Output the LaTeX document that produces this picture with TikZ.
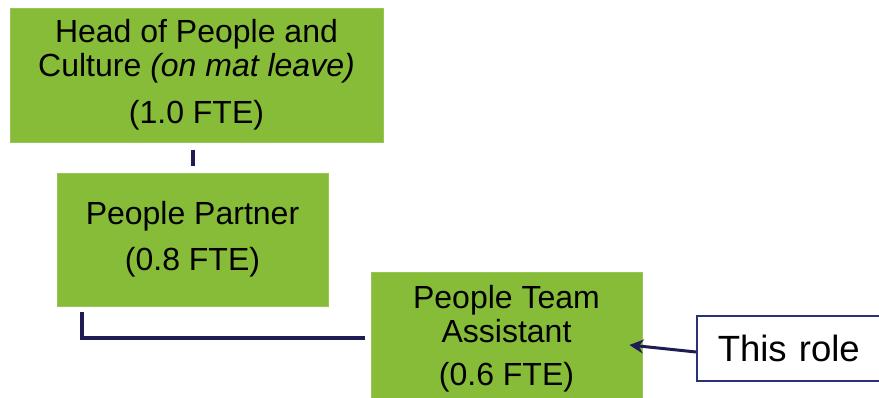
\documentclass[tikz,border=0pt]{standalone}
\usepackage{fontspec}
\setmainfont{Liberation Sans}
\usetikzlibrary{arrows.meta,calc}
\definecolor{boxgreen}{RGB}{134,188,55}
\definecolor{navy}{RGB}{30,27,85}
\definecolor{rolenavy}{RGB}{40,50,120}
\begin{document}
\begin{tikzpicture}[x=1pt,y=-1pt,
  greenbox/.style={fill=boxgreen, draw=boxgreen!85!white, line width=0.8pt, inner sep=0pt,
    align=center, minimum width=271pt, minimum height=133pt,
    font=\fontsize{32}{34}\selectfont},
  link/.style={draw=navy, line width=4pt},
  rolebox/.style={fill=white, draw=rolenavy, line width=1.5pt, anchor=west,
    minimum height=65pt, inner xsep=21pt, text width=170pt, align=left,
    font=\fontsize{36.5}{40}\selectfont}
]
\useasboundingbox (0,0) rectangle (879,398);
\node[greenbox, minimum width=373pt, minimum height=134pt] (head) at (196.5,75)
  {Head of People and\\Culture \textit{(on mat leave)}\\[13pt](1.0 FTE)};
\node[greenbox] (partner) at (192.5,239.5) {People Partner\\[12pt](0.8 FTE)};
\node[greenbox] (team) at (506.5,338.5) {People Team\\Assistant\\[9pt](0.6 FTE)};
\node[rolebox] (role) at (696,348.5) {This role};
\draw[link] ($(partner.north)+(0.5,-23)$) -- ($(partner.north)+(0.5,-7)$);
\draw[link] ($(partner.south west)+(25,6)$) |- ($(team.west)+(-6,0)$);
\draw[navy, line width=3pt, -{Stealth[length=14pt,width=14pt]}]
  ($(role.west)+(0,3.5)$) -- ($(team.east)+(-13,6.5)$);
\end{tikzpicture}
\end{document}
